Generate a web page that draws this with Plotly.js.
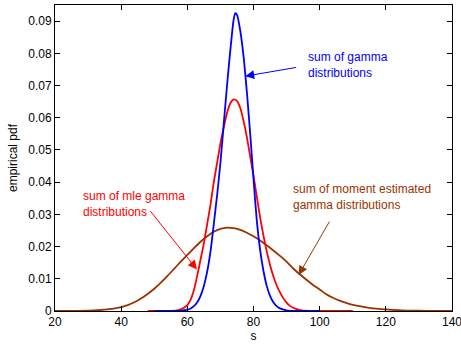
<!DOCTYPE html>
<html>
<head>
<meta charset="utf-8">
<script src="https://cdn.plot.ly/plotly-3.0.1.min.js"></script>
<style>html,body{margin:0;padding:0;background:#fff;}#chart{width:461px;height:354px;}</style>
</head>
<body>
<div id="chart"></div>
<script>
// Sum of gamma distributions (blue)
const gammaX = [50, 56, 58, 60, 61, 62, 63, 64, 65, 66, 67, 68, 69, 70, 71, 72, 73, 74, 74.5, 75, 76, 77, 78, 79, 80, 81, 82, 83, 84, 85, 86, 87, 88, 90, 93, 100];
const gammaY = [0, 0.00002, 0.0001, 0.0004, 0.0008, 0.0015, 0.0027, 0.0047, 0.0078, 0.0122, 0.0185, 0.027, 0.036, 0.046, 0.058, 0.070, 0.081, 0.0905, 0.0925, 0.0920, 0.0870, 0.079, 0.068, 0.055, 0.041, 0.028, 0.019, 0.0125, 0.0078, 0.0047, 0.0027, 0.0015, 0.0008, 0.0002, 0.00003, 0];

// Sum of MLE gamma distributions (red)
const mleX = [48, 52, 55, 57, 58, 59, 60, 61, 62, 63, 64, 65, 66, 67, 68, 69, 70, 71, 72, 73, 74, 75, 76, 77, 78, 79, 80, 81, 82, 83, 84, 85, 86, 87, 88, 89, 90, 91, 92, 94, 97, 100, 110];
const mleY = [0, 0.00001, 0.00006, 0.0002, 0.0005, 0.001, 0.0018, 0.0035, 0.0065, 0.011, 0.016, 0.021, 0.027, 0.033, 0.040, 0.046, 0.052, 0.057, 0.0615, 0.0645, 0.0657, 0.0652, 0.063, 0.059, 0.054, 0.048, 0.042, 0.0355, 0.029, 0.0235, 0.0185, 0.0143, 0.0108, 0.0080, 0.0058, 0.0040, 0.0026, 0.0016, 0.0010, 0.0003, 0.00005, 0, 0];

// Sum of moment estimated gamma distributions (brown)
const momX = [20, 25, 30, 35, 40, 42, 44, 46, 48, 50, 52, 54, 56, 58, 60, 62, 64, 66, 68, 70, 72, 74, 76, 78, 80, 82, 84, 86, 88, 90, 92, 94, 96, 98, 100, 102, 104, 106, 108, 110, 112, 115, 120, 125, 130, 135, 140];
const momY = [0, 0.00005, 0.0001, 0.0004, 0.0012, 0.0018, 0.0027, 0.0039, 0.0053, 0.0069, 0.0088, 0.0109, 0.0131, 0.0153, 0.0174, 0.0195, 0.0215, 0.0232, 0.0246, 0.0255, 0.0259, 0.0257, 0.0252, 0.0243, 0.0232, 0.0219, 0.0204, 0.0188, 0.0171, 0.0153, 0.0132, 0.0114, 0.0097, 0.0081, 0.0067, 0.0052, 0.0041, 0.0032, 0.0025, 0.0019, 0.0015, 0.0010, 0.0005, 0.0002, 0.0001, 0.00004, 0.00001];

const xTicks = [20, 40, 60, 80, 100, 120, 140];
const yTicks = [0, 0.01, 0.02, 0.03, 0.04, 0.05, 0.06, 0.07, 0.08, 0.09];
const yTickText = ['0', '0.01', '0.02', '0.03', '0.04', '0.05', '0.06', '0.07', '0.08', '0.09'];

const labelGamma = 'sum of gamma<br>distributions';
const labelMle = 'sum of mle gamma<br>distributions';
const labelMom = 'sum of moment estimated<br>gamma distributions';

const BLUE = '#0000ff', RED = '#ff0000', BROWN = '#993300';
const FONT = 'Liberation Sans, Arial, sans-serif';

const traces = [
  {x: momX, y: momY, mode: 'lines', line: {color: BROWN, width: 1.8, shape: 'spline', smoothing: 0.6}, hoverinfo: 'skip'},
  {x: mleX, y: mleY, mode: 'lines', line: {color: RED, width: 1.8, shape: 'spline', smoothing: 0.6}, hoverinfo: 'skip'},
  {x: gammaX, y: gammaY, mode: 'lines', line: {color: BLUE, width: 1.8, shape: 'spline', smoothing: 0.6}, hoverinfo: 'skip'}
];

function arrow(x, y, ax, ay, color) {
  return {x: x, y: y, ax: ax, ay: ay, xref: 'x', yref: 'y', axref: 'x', ayref: 'y',
    text: '', showarrow: true, arrowhead: 2, arrowsize: 1.8, arrowwidth: 1, arrowcolor: color};
}
function label(x, y, text, color) {
  return {x: x, y: y, xref: 'x', yref: 'y', text: text, showarrow: false, xanchor: 'left', yanchor: 'middle',
    align: 'left', font: {family: FONT, size: 12, color: color}, borderpad: 0};
}

const layout = {
  width: 461, height: 354,
  margin: {l: 55, r: 9, t: 5, b: 43},
  paper_bgcolor: '#fff', plot_bgcolor: '#fff',
  showlegend: false,
  font: {family: FONT, size: 12, color: '#000'},
  xaxis: {
    range: [20, 140], tickvals: xTicks, ticktext: xTicks.map(String),
    ticks: 'inside', ticklen: 5, tickcolor: '#000', showline: true, linecolor: '#000', linewidth: 1,
    mirror: 'ticks', showgrid: false, zeroline: false, ticklabeloverflow: 'allow',
    title: {text: 's', font: {family: FONT, size: 12, color: '#000'}, standoff: 0},
    tickfont: {family: FONT, size: 12, color: '#000'}
  },
  yaxis: {
    range: [0, 0.095], tickvals: yTicks, ticktext: yTickText,
    ticks: 'inside', ticklen: 5, tickcolor: '#000', showline: true, linecolor: '#000', linewidth: 1,
    mirror: 'ticks', showgrid: false, zeroline: false, ticklabeloverflow: 'allow',
    title: {text: 'empirical pdf', font: {family: FONT, size: 12, color: '#000'}, standoff: 8},
    tickfont: {family: FONT, size: 12, color: '#000'}
  },
  annotations: [
    arrow(77.5, 0.0729, 93.35, 0.0757, BLUE),
    arrow(62.9, 0.0129, 48.43, 0.0315, RED),
    arrow(93.65, 0.0112, 103.2, 0.0282, BROWN),
    label(96.27, 0.0765, labelGamma, BLUE),
    label(28.05, 0.0331, labelMle, RED),
    label(91.66, 0.0353, labelMom, BROWN)
  ]
};

Plotly.newPlot('chart', traces, layout, {displayModeBar: false, staticPlot: true});
</script>
</body>
</html>
